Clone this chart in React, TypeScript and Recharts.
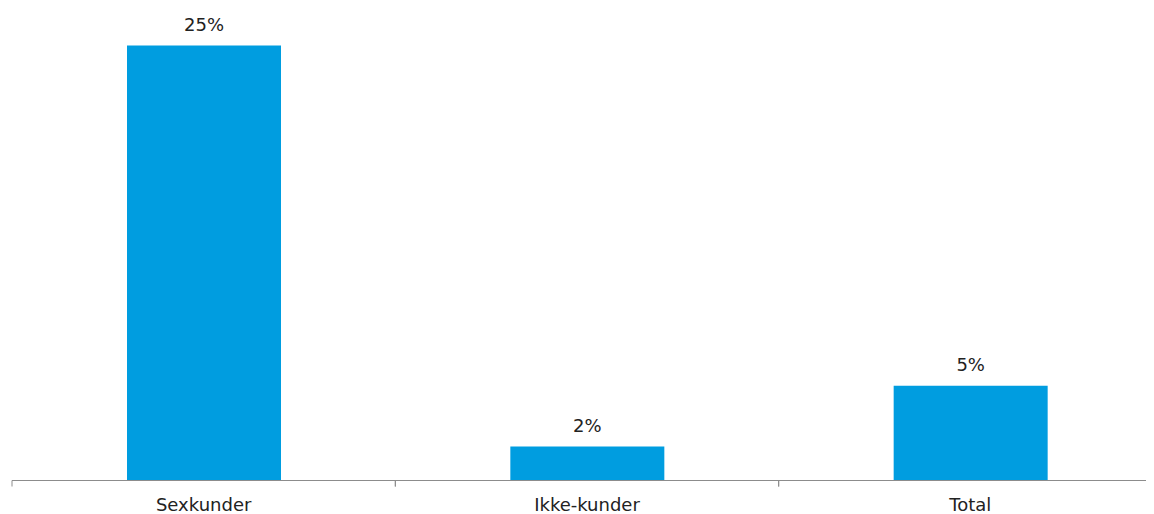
import { BarChart, Bar, XAxis, YAxis, LabelList } from "recharts";

const categories = ["Sexkunder", "Ikke-kunder", "Total"];
const shares = [25, 1.95, 5.45];

const data = categories.map((name, i) => ({ name, value: shares[i] }));

const FONT = "Verdana, 'DejaVu Sans', sans-serif";

// draws the label plus a tick mark on the left edge of each category
const CategoryTick = (props: any) => {
  const { x, y, payload } = props;
  const half = payload && typeof payload.offset === "number" ? payload.offset : 1150 / 6;
  const left = x - half;
  return (
    <g>
      <line x1={left} y1={y} x2={left} y2={y + 6} stroke="#8c8c8c" strokeWidth={1} />
      <line x1={x + half} y1={y} x2={x + half} y2={y + 6} stroke="#8c8c8c" strokeWidth={1} />
      <text x={x} y={y + 30.5} textAnchor="middle" fill="#222" fontSize={18} fontFamily={FONT}>
        {payload.value}
      </text>
    </g>
  );
};

export default function App() {
  return (
    <div style={{ width: 1146, height: 506, overflow: "hidden", background: "#fff" }}>
      <BarChart
        width={1154}
        height={506}
        data={data}
        margin={{ top: 37.5, right: 0, bottom: 0, left: 4 }}
      >
        <XAxis
          dataKey="name"
          height={33.5}
          axisLine={{ stroke: "#8c8c8c", strokeWidth: 1 }}
          tickLine={false}
          tickSize={0}
          tickMargin={0}
          interval={0}
          tick={<CategoryTick />}
        />
        <YAxis hide domain={[0, 25]} />
        <Bar dataKey="value" fill="#009de0" barSize={154} isAnimationActive={false}>
          <LabelList
            dataKey="value"
            position="top"
            offset={15}
            formatter={(v: any) => `${Math.round(Number(v))}%`}
            style={{ fill: "#222", fontSize: 18, fontFamily: FONT }}
          />
        </Bar>
      </BarChart>
    </div>
  );
}
